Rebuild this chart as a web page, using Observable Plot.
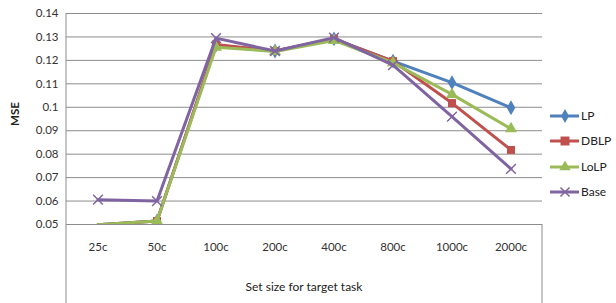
<!DOCTYPE html>
<html><head><meta charset="utf-8">
<script src="https://cdn.jsdelivr.net/npm/d3@7"></script>
<script src="https://cdn.jsdelivr.net/npm/@observablehq/plot@0.6"></script>
<style>
body{margin:0;background:#fff;}
#chart{position:relative;width:616px;height:303px;}
svg{font-family:Lato,"Open Sans",sans-serif;}
</style></head>
<body><div id="chart"></div>
<script>
const categories = ["25c","50c","100c","200c","400c","800c","1000c","2000c"];
const seriesNames = ["LP","DBLP","LoLP","Base"];
const LP   = [0.0499,0.0515,0.1265,0.1240,0.1292,0.1197,0.1105,0.0998];
const DBLP = [0.0499,0.0515,0.1268,0.1240,0.1292,0.1197,0.1018,0.0818];
const LoLP = [0.0499,0.0515,0.1256,0.1238,0.1285,0.1190,0.1055,0.0908];
const Base = [0.0606,0.0600,0.1295,0.1240,0.1297,0.1180,0.0960,0.0737];
const yTicks = [0.05,0.06,0.07,0.08,0.09,0.1,0.11,0.12,0.13,0.14];
const colors = ["#4F81BD","#C0504D","#9BBB59","#8064A2"];
const symbols = ["diamond","square","triangle","times"];
const sizes = [4.5,4.5,4.5,4.5];

const seriesValues = [LP,DBLP,LoLP,Base];
const rows = [];
seriesNames.forEach((s,i)=>categories.forEach((c,j)=>rows.push({series:s,cat:c,v:seriesValues[i][j]})));

const marks = [
  Plot.gridY(yTicks,{stroke:"#8c8c8c",strokeOpacity:1,strokeWidth:1}),
  Plot.axisY(yTicks,{tickSize:0,tickPadding:8,tickFormat:d=>String(+d.toFixed(2)),fontSize:11.5,fill:"#333",label:null}),
  Plot.axisX({tickSize:0,tickPadding:18,fontSize:11.5,fill:"#333",label:null})
];
seriesNames.forEach((s,i)=>{
  const d = rows.filter(r=>r.series===s);
  marks.push(Plot.line(d,{x:"cat",y:"v",stroke:colors[i],strokeWidth:3,clip:true}));
  marks.push(Plot.dot(d,{x:"cat",y:"v",filter:r=>r.v>=0.05,symbol:symbols[i],r:sizes[i],
    fill:symbols[i]==="times"?"none":colors[i],stroke:colors[i],strokeWidth:symbols[i]==="times"?1.5:0,clip:true}));
});

const plot = Plot.plot({
  width:616,height:303,
  marginLeft:66,marginRight:74,marginTop:13,marginBottom:79,
  x:{type:"band",domain:categories,padding:0},
  y:{domain:[0.05,0.14]},
  marks
});
document.getElementById("chart").appendChild(plot);

const svg = d3.select(plot);
const xs = plot.scale("x"), ys = plot.scale("y");
const x0 = xs.range[0], x1 = xs.range[1];
const yBottom = ys.apply(0.05);
const yTop = ys.apply(0.14);
const g = svg.append("g").attr("text-anchor","start");
g.append("line").attr("x1",x0).attr("x2",x0).attr("y1",yTop).attr("y2",303).attr("stroke","#8c8c8c");
g.append("line").attr("x1",x1).attr("x2",x1).attr("y1",yBottom).attr("y2",303).attr("stroke","#8c8c8c");
g.append("text").attr("x",(x0+x1)/2).attr("y",291).attr("text-anchor","middle")
  .attr("font-size",12).attr("fill","#222").text("Set size for target task");
g.append("text").attr("transform",`translate(19,114) rotate(-90)`).attr("text-anchor","middle")
  .attr("font-size",11.5).attr("font-weight","bold").attr("fill","#222").text("MSE");

const legY = [116,141,167,192];
const d3sym = [d3.symbolDiamond, d3.symbolSquare, d3.symbolTriangle, d3.symbolTimes];
seriesNames.forEach((s,i)=>{
  const lg = g.append("g").attr("transform",`translate(550,${legY[i]})`);
  lg.append("line").attr("x1",0).attr("x2",29).attr("stroke",colors[i]).attr("stroke-width",3);
  const p = d3.symbol().type(d3sym[i]).size(i===1?80:56)();
  lg.append("path").attr("transform","translate(15,0)").attr("d",p)
    .attr("fill",i===3?"none":colors[i]).attr("stroke",colors[i]).attr("stroke-width",i===3?1.5:0);
  lg.append("text").attr("x",31).attr("y",4).attr("text-anchor","start").attr("font-size",12).attr("fill","#222").text(s);
});
</script></body></html>
